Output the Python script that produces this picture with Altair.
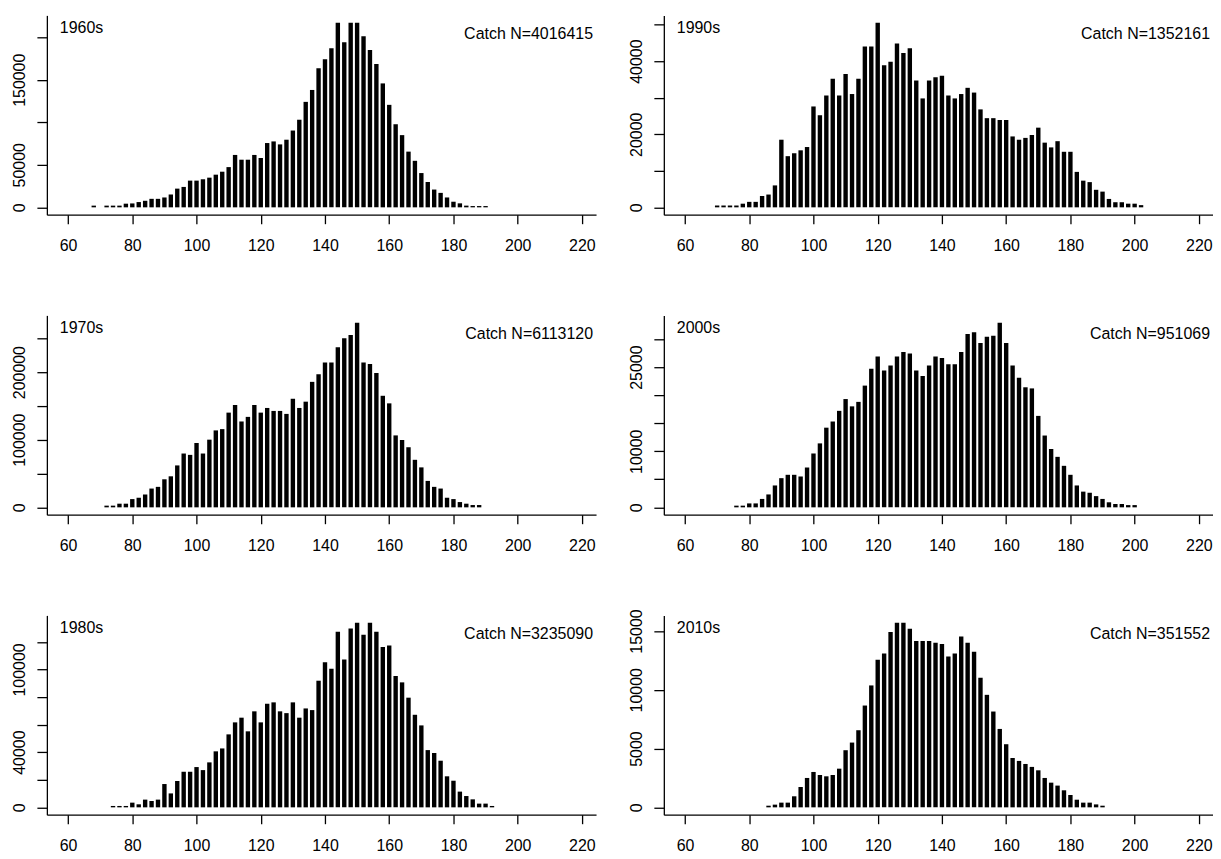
import altair as alt
import pandas as pd

FONT = "Liberation Sans"

# ---- data (2-cm length classes, counts) ----
decades = ["1960s", "1990s", "1970s", "2000s", "1980s", "2010s"]
catch_n = [4016415, 1352161, 6113120, 951069, 3235090, 351552]

first_class = [68, 70, 72, 76, 74, 86]

counts_1960s = [2000, 0, 2000, 2000, 2000, 4300, 4600, 6200, 7700, 10000, 10000, 11600,
                15100, 22000, 24000, 31400, 31400, 33000, 34900, 38400, 41900, 47300,
                61600, 56000, 56000, 61600, 58000, 75600, 77500, 74000, 79500, 90300,
                103000, 124000, 138000, 163500, 174000, 187000, 217000, 194000, 217000,
                217000, 201000, 185000, 168600, 145700, 120500, 97700, 84900, 65500,
                54700, 40300, 29800, 20900, 17000, 11600, 6600, 4700, 2000, 1500, 1500, 1500]
counts_1990s = [500, 500, 500, 500, 1000, 1500, 1500, 3100, 3500, 6000, 18500, 14000,
                14800, 15600, 16500, 27600, 25200, 30600, 35200, 30600, 36500, 31000,
                35200, 44000, 44000, 50500, 38900, 39800, 44800, 42200, 43500, 34700,
                29800, 34700, 35600, 36000, 30600, 29800, 31000, 32700, 31400, 26800,
                24400, 24400, 23900, 23900, 19400, 18500, 19000, 19800, 21800, 17700,
                16400, 18100, 15200, 15200, 9700, 7300, 6900, 4800, 4300, 2300, 1400,
                1400, 1000, 1000, 600]
counts_1970s = [2500, 2500, 5400, 5400, 12200, 14200, 19000, 27800, 30300, 41500, 45900,
                62000, 79600, 77600, 95200, 79600, 100100, 113800, 115700, 140100, 151400,
                127000, 133800, 151400, 140100, 147000, 142600, 142600, 138200, 160600,
                147000, 156300, 185600, 196800, 214400, 214400, 236800, 250000, 254900,
                273000, 214400, 211900, 198700, 165000, 153800, 106400, 99600, 88900,
                70300, 59100, 39100, 30300, 27800, 14200, 12200, 7800, 5400, 3400, 3400]
counts_2000s = [300, 300, 700, 700, 1500, 2300, 3900, 5200, 5800, 5800, 5500, 7100, 9600,
                11400, 14200, 15300, 17200, 19300, 18000, 18800, 21700, 24700, 26900,
                24400, 25300, 26900, 27700, 27400, 24400, 23400, 25300, 26900, 26600,
                25500, 25500, 27700, 30900, 31200, 29300, 30400, 30600, 32900, 29300,
                25300, 23100, 21400, 21200, 16300, 12800, 10400, 9000, 7400, 5800, 3900,
                2800, 2600, 2000, 1500, 900, 600, 600, 400, 400]
counts_1980s = [1000, 1000, 1000, 3400, 2200, 5600, 4600, 5600, 16900, 10100, 19100, 25800,
                25800, 29200, 27000, 32600, 40600, 42700, 52900, 61600, 65000, 55100,
                69600, 61600, 75100, 76100, 69600, 68300, 76100, 65000, 71700, 70500,
                91800, 105100, 100500, 127300, 107200, 129700, 133800, 125100, 133800,
                127300, 116200, 117400, 95200, 90600, 79500, 67100, 59400, 41500, 39400,
                33800, 22500, 19300, 11400, 8200, 5800, 2700, 2700, 1000]
counts_2010s = [140, 230, 400, 400, 940, 1730, 2500, 3010, 2750, 2640, 2750, 3290, 4860,
                5510, 6560, 8660, 10370, 12550, 13090, 14910, 15700, 15700, 15190, 14140,
                14140, 14140, 14000, 13890, 12840, 13090, 14540, 14000, 13230, 11020, 9570,
                8150, 6670, 5370, 4200, 3950, 3690, 3440, 3150, 2500, 2100, 1850, 1450,
                1050, 650, 400, 400, 250, 140]
counts = [counts_1960s, counts_1990s, counts_1970s, counts_2000s, counts_1980s, counts_2010s]

# y-axis tick values and the ones that carry a label (as in the reference)
yticks = [
    [0, 50000, 100000, 150000, 200000],
    [0, 10000, 20000, 30000, 40000, 50000],
    [0, 50000, 100000, 150000, 200000, 250000],
    [0, 5000, 10000, 15000, 20000, 25000, 30000],
    [0, 20000, 40000, 60000, 80000, 100000, 120000],
    [0, 5000, 10000, 15000],
]
ylabels = [
    [0, 50000, 150000],
    [0, 20000, 40000],
    [0, 100000, 200000],
    [0, 10000, 25000],
    [0, 40000, 100000],
    [0, 5000, 10000, 15000],
]
xticks = [60, 80, 100, 120, 140, 160, 180, 200, 220]
xlim = [53.4, 224.4]

W, H = 551, 200


def panel(i):
    vals = counts[i]
    centers = list(range(first_class[i], first_class[i] + 2 * len(vals), 2))
    df = pd.DataFrame({"length": centers, "count": vals})
    m = max(vals)
    shown = ",".join(str(v) for v in ylabels[i])
    bars = alt.Chart(df).mark_bar(color="black", width=4.4).encode(
        x=alt.X("length:Q",
                scale=alt.Scale(domain=xlim, nice=False, zero=False, padding=0),
                axis=alt.Axis(values=xticks, title=None, format="d", grid=False,
                              labelFlush=False, labelOverlap=False,
                              tickSize=9, tickWidth=1.3, tickColor="black",
                              domainColor="black", domainWidth=1.3,
                              labelFont=FONT, labelFontSize=16, labelColor="black",
                              labelPadding=13.5)),
        y=alt.Y("count:Q",
                scale=alt.Scale(domain=[-0.04 * m, 1.04 * m], nice=False, zero=False, padding=0),
                axis=alt.Axis(values=yticks[i], title=None, format="d", grid=False,
                              labelExpr=f"indexof([{shown}], datum.value) >= 0 ? datum.label : ''",
                              labelAngle=270, labelAlign="center", labelBaseline="alphabetic",
                              labelOverlap=False, labelFlush=False,
                              tickSize=10, tickWidth=1.3, tickColor="black",
                              domainColor="black", domainWidth=1.3,
                              labelFont=FONT, labelFontSize=16, labelColor="black",
                              labelPadding=12)),
        y2=alt.datum(0),
    )
    tdf = pd.DataFrame({"decade": [decades[i]], "catch": [f"Catch N={catch_n[i]}"]})
    t1 = alt.Chart(tdf).mark_text(align="left", baseline="middle", x=13, y=12.5,
                                  font=FONT, fontSize=16, color="black").encode(text="decade:N")
    t2 = alt.Chart(tdf).mark_text(align="right", baseline="middle", x=W - 3, y=18.5,
                                  font=FONT, fontSize=16, color="black").encode(text="catch:N")
    return alt.layer(bars, t1, t2).properties(width=W, height=H)


chart = alt.concat(*[panel(i) for i in range(6)], columns=2).properties(
    spacing={"row": 101, "column": 68},
    bounds="flush",
    padding={"left": 3, "top": 6, "right": 0, "bottom": 0},
).resolve_scale(x="independent", y="independent").configure_view(stroke=None)

chart.save("out.html", embed_options={"renderer": "svg", "actions": False})
